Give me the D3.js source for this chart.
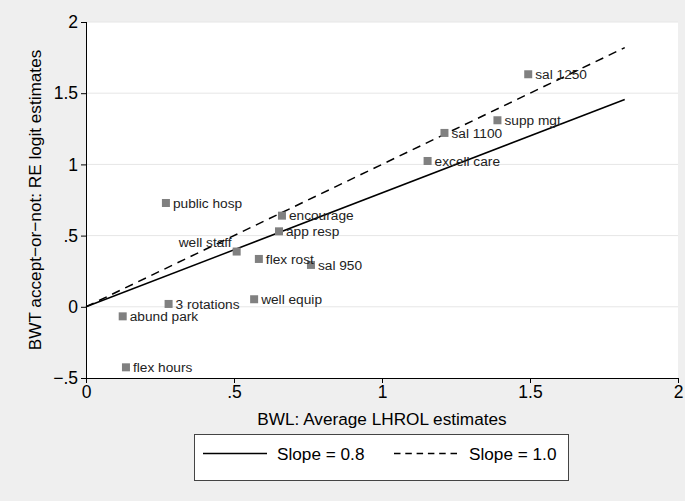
<!DOCTYPE html>
<html>
<head>
<meta charset="utf-8">
<script src="https://cdn.jsdelivr.net/npm/d3@7"></script>
<style>
  html, body { margin: 0; padding: 0; background: #efefef; }
  svg { display: block; }
  text { font-family: "Liberation Sans", Arial, Helvetica, sans-serif; }
</style>
</head>
<body>
<svg id="chart" width="685" height="501"></svg>
<script>
// ---- data ----
const attributes = ["sal 1250", "supp mgt", "sal 1100", "excell care", "public hosp", "encourage",
  "app resp", "well staff", "flex rost", "sal 950", "well equip", "3 rotations", "abund park", "flex hours"];
const bwl = [1.494, 1.390, 1.211, 1.154, 0.270, 0.662, 0.652, 0.509, 0.584, 0.760, 0.568, 0.279, 0.124, 0.135];
const bwt = [1.633, 1.310, 1.221, 1.024, 0.729, 0.640, 0.530, 0.388, 0.336, 0.294, 0.053, 0.020, -0.067, -0.425];
const slopes = [0.8, 1.0];
const slopeLabels = ["Slope = 0.8", "Slope = 1.0"];
const lineXRange = [0, 1.82];
const xTicks = [0, 0.5, 1, 1.5, 2];
const xTickLabels = ["0", ".5", "1", "1.5", "2"];
const yTicks = [-0.5, 0, 0.5, 1, 1.5, 2];
const yTickLabels = ["\u2212.5", "0", ".5", "1", "1.5", "2"];
const xTitle = "BWL: Average LHROL estimates";
const yTitle = "BWT accept\u2212or\u2212not: RE logit estimates";

// ---- layout ----
const svg = d3.select("#chart");
const plot = { left: 86, right: 678, top: 22, bottom: 378 };
const x = d3.scaleLinear().domain([0, 2]).range([plot.left, plot.right]);
const y = d3.scaleLinear().domain([-0.5, 2]).range([plot.bottom, plot.top]);
const leftLabels = new Set(["well staff"]);

svg.append("rect").attr("width", 685).attr("height", 501).attr("fill", "#efefef");
svg.append("rect")
  .attr("x", plot.left).attr("y", plot.top)
  .attr("width", plot.right - plot.left).attr("height", plot.bottom - plot.top)
  .attr("fill", "#ffffff");

// gridlines
svg.append("g").selectAll("line").data(yTicks.filter(d => d > -0.5)).join("line")
  .attr("x1", plot.left).attr("x2", plot.right)
  .attr("y1", d => y(d)).attr("y2", d => y(d))
  .attr("stroke", "#e6e6e6").attr("stroke-width", 1);

// axes
const yAxis = d3.axisLeft(y).tickValues(yTicks)
  .tickFormat((d, i) => yTickLabels[i]).tickSize(5).tickSizeOuter(0).tickPadding(3);
const gy = svg.append("g").attr("transform", `translate(${plot.left},0)`).call(yAxis);
const xAxis = d3.axisBottom(x).tickValues(xTicks)
  .tickFormat((d, i) => xTickLabels[i]).tickSize(5).tickSizeOuter(0).tickPadding(3);
const gx = svg.append("g").attr("transform", `translate(0,${plot.bottom})`).call(xAxis);
[gx, gy].forEach(g => {
  g.select(".domain").attr("stroke", "#000").attr("stroke-width", 1);
  g.selectAll(".tick line").attr("stroke", "#000");
  g.selectAll(".tick text").attr("font-size", "17.5px").attr("fill", "#000")
    .attr("font-family", "Liberation Sans, Arial, sans-serif");
});
gy.select(".domain").attr("d", `M0.5,${plot.bottom}V${plot.top}`);

// axis titles
svg.append("text").attr("x", (plot.left + plot.right) / 2).attr("y", 425)
  .attr("text-anchor", "middle").attr("font-size", "17.2px").attr("fill", "#000").text(xTitle);
svg.append("text")
  .attr("transform", `translate(41,${(plot.top + plot.bottom) / 2}) rotate(-90)`)
  .attr("text-anchor", "middle").attr("font-size", "17.2px").attr("fill", "#000").text(yTitle);

// reference lines
const dashes = [null, "8.5,6"];
const legendDashes = [null, "6.5,4.8"];
svg.append("g").selectAll("line").data(slopes).join("line")
  .attr("x1", x(lineXRange[0])).attr("y1", d => y(d * lineXRange[0]))
  .attr("x2", x(lineXRange[1])).attr("y2", d => y(d * lineXRange[1]))
  .attr("stroke", "#000").attr("stroke-width", 1.5)
  .attr("stroke-dasharray", (d, i) => dashes[i]);

// points
const pts = attributes.map((a, i) => ({ a, bx: bwl[i], by: bwt[i] }));
svg.append("g").selectAll("rect").data(pts).join("rect")
  .attr("x", d => x(d.bx) - 4).attr("y", d => y(d.by) - 4)
  .attr("width", 8).attr("height", 8).attr("fill", "#808080");

svg.append("g").selectAll("text").data(pts).join("text")
  .attr("x", d => leftLabels.has(d.a) ? x(d.bx) - 5 : x(d.bx) + 7)
  .attr("y", d => leftLabels.has(d.a) ? y(d.by) - 9 : y(d.by))
  .attr("dy", "0.35em")
  .attr("text-anchor", d => leftLabels.has(d.a) ? "end" : "start")
  .attr("font-size", "13.7px").attr("fill", "#222")
  .text(d => d.a);

// legend
const lg = svg.append("g");
lg.append("rect").attr("x", 194.5).attr("y", 434.5).attr("width", 374).attr("height", 46)
  .attr("fill", "#fff").attr("stroke", "#444").attr("stroke-width", 1);
const legItems = [
  { x1: 203, x2: 267, tx: 277 },
  { x1: 394, x2: 457, tx: 469 }
];
legItems.forEach((it, i) => {
  lg.append("line").attr("x1", it.x1).attr("x2", it.x2).attr("y1", 453.5).attr("y2", 453.5)
    .attr("stroke", "#000").attr("stroke-width", 1.5).attr("stroke-dasharray", legendDashes[i]);
  lg.append("text").attr("x", it.tx).attr("y", 453.5).attr("dy", "0.35em")
    .attr("font-size", "17.2px").attr("fill", "#000").text(slopeLabels[i]);
});
</script>
</body>
</html>
